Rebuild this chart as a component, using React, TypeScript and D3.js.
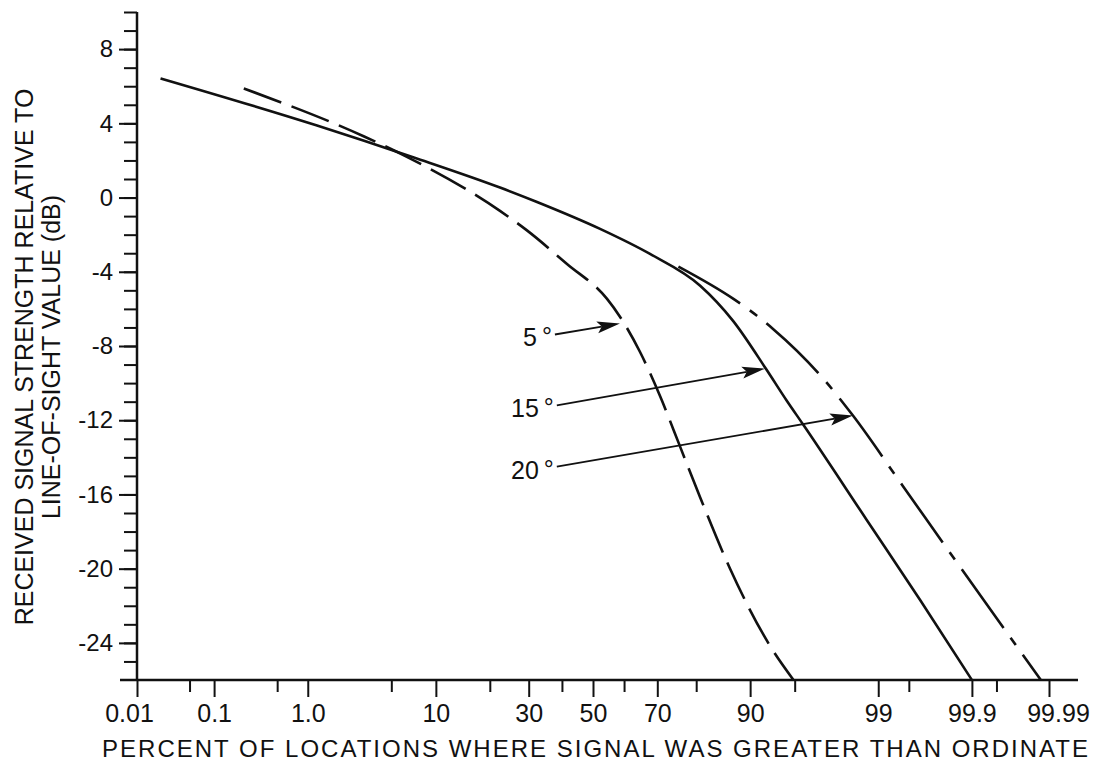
import React, { useEffect, useRef } from 'react';
import * as d3 from 'd3';

// percent of locations (x) vs. received signal relative to line-of-sight, dB (y)
// 5 deg elevation (dashed)
const pct5 = [0.22, 3.1, 6.2, 22.4, 29.5, 41.6, 54.5, 58.7, 64.9, 70.8, 76.1, 80.9, 86.8, 92.6, 94.9];
const db5 = [5.88, 3.29, 2.26, -0.72, -1.77, -3.58, -5.45, -6.42, -8.31, -10.71, -13.41, -16.16, -19.99, -24.19, -26];
// 15 deg elevation (solid)
const pct15 = [0.021, 1.22, 7.2, 22.4, 32.4, 52.3, 67.9, 80.9, 87.3, 92.1, 94.3, 95.66, 98.73, 99.62, 99.9];
const db15 = [6.42, 3.88, 2.16, 0.54, -0.24, -1.69, -3.04, -4.75, -6.63, -9.24, -10.95, -12.22, -17.4, -21.7, -26];
// 20 deg elevation (dash-dot)
const pct20 = [75.7, 87.4, 90.9, 92.9, 96.99, 98.3, 99.427, 99.886, 99.987];
const db20 = [-3.72, -5.46, -6.36, -7.08, -9.77, -11.75, -15.56, -20.44, -26];

const xMajor = [0.01, 0.1, 1, 10, 30, 50, 70, 90, 99, 99.9, 99.99];
const xMajorLabels = ['0.01', '0.1', '1.0', '10', '30', '50', '70', '90', '99', '99.9', '99.99'];
const xMinor = [0.05, 0.5, 5, 20, 40, 60, 80, 95, 99.5, 99.95];
const yMajor = [-24, -20, -16, -12, -8, -4, 0, 4, 8];
const yMinor = d3.range(-25, 11);

// arrow annotations
const arrowLabels = ['5', '15', '20'];
const arrowTailPct = [37.8, 38.4, 38.4];
const arrowTailDb = [-7.38, -11.2, -14.5];
const arrowTipPct = [58.7, 91.96, 98.3];
const arrowTipDb = [-6.79, -9.22, -11.75];

const FONT = '"Liberation Sans", Arial, Helvetica, sans-serif';
const INK = '#111';

// inverse normal cdf (Acklam) for the probability axis
function probit(p: number): number {
  const a = [-39.69683028665376, 220.9460984245205, -275.9285104469687, 138.357751867269, -30.66479806614716, 2.506628277459239];
  const b = [-54.47609879822406, 161.5858368580409, -155.6989798598866, 66.80131188771972, -13.28068155288572];
  const c = [-0.007784894002430293, -0.3223964580411365, -2.400758277161838, -2.549732539343734, 4.374664141464968, 2.938163982698783];
  const d = [0.007784695709041462, 0.3224671290700398, 2.445134137142996, 3.754408661907416];
  const lo = 0.02425;
  if (p < lo || p > 1 - lo) {
    const q = Math.sqrt(-2 * Math.log(p < lo ? p : 1 - p));
    const v = (((((c[0] * q + c[1]) * q + c[2]) * q + c[3]) * q + c[4]) * q + c[5]) /
      ((((d[0] * q + d[1]) * q + d[2]) * q + d[3]) * q + 1);
    return p < lo ? v : -v;
  }
  const q = p - 0.5;
  const r = q * q;
  return ((((((a[0] * r + a[1]) * r + a[2]) * r + a[3]) * r + a[4]) * r + a[5]) * q) /
    (((((b[0] * r + b[1]) * r + b[2]) * r + b[3]) * r + b[4]) * r + 1);
}

const App = () => {
  const ref = useRef<SVGSVGElement>(null);

  useEffect(() => {
    const svg = d3.select(ref.current);
    svg.selectAll('*').remove();

    const zx = d3.scaleLinear().domain([probit(0.0001), probit(0.9999)]).range([137, 1049]);
    const x = (p: number) => zx(probit(p / 100));
    const y = d3.scaleLinear().domain([-26, 10]).range([680, 12]);
    const y0 = y(-26);

    const g = svg.append('g').attr('font-family', FONT);

    // x axis (probability scale)
    const xMinorAxis = d3.axisBottom(zx).tickValues(xMinor.map((p) => probit(p / 100))).tickSize(12).tickFormat(() => '');
    const xMajorAxis = d3.axisBottom(zx)
      .tickValues(xMajor.map((p) => probit(p / 100)))
      .tickSize(17)
      .tickPadding(7)
      .tickFormat((_, i) => xMajorLabels[i]);
    g.append('g').attr('transform', `translate(0,${y0})`).call(xMinorAxis);
    const xg = g.append('g').attr('transform', `translate(0,${y0})`).call(xMajorAxis);
    // end labels sit a little outside their ticks in the original
    xg.selectAll('.tick text').attr('dx', (_, i) => (i === 0 ? -8 : i === xMajor.length - 1 ? 9 : 0));

    // y axis
    const yMinorAxis = d3.axisLeft(y).tickValues(yMinor).tickSize(13).tickFormat(() => '');
    const yMajorAxis = d3.axisLeft(y)
      .tickValues(yMajor)
      .tickSize(18)
      .tickPadding(6)
      .tickFormat((v) => String(v));
    g.append('g').attr('transform', `translate(${zx.range()[0]},0)`).call(yMinorAxis);
    const yg = g.append('g').attr('transform', `translate(${zx.range()[0]},0)`).call(yMajorAxis);

    g.selectAll('.domain').remove();
    g.selectAll('.tick line').attr('stroke', INK).attr('stroke-width', 2);
    xg.selectAll('.tick text').attr('fill', INK).attr('font-size', 25).attr('font-family', FONT);
    yg.selectAll('.tick text').attr('fill', INK).attr('font-size', 24).attr('font-family', FONT);

    // axis lines
    g.append('line')
      .attr('x1', zx.range()[0] - 17).attr('x2', zx.range()[1] + 29)
      .attr('y1', y0).attr('y2', y0)
      .attr('stroke', INK).attr('stroke-width', 2.5);
    g.append('line')
      .attr('x1', zx.range()[0]).attr('x2', zx.range()[0])
      .attr('y1', y(10)).attr('y2', y0)
      .attr('stroke', INK).attr('stroke-width', 2.5);

    // curves
    const line = d3.line<[number, number]>()
      .x((d) => x(d[0]))
      .y((d) => y(d[1]))
      .curve(d3.curveMonotoneX);

    const series = [
      { pct: pct5, db: db5, dash: '40 11' },
      { pct: pct15, db: db15, dash: null },
      { pct: pct20, db: db20, dash: '72 12 9 12' },
    ];
    series.forEach((s) => {
      g.append('path')
        .datum(s.pct.map((p, i) => [p, s.db[i]] as [number, number]))
        .attr('d', line)
        .attr('fill', 'none')
        .attr('stroke', INK)
        .attr('stroke-width', 2.6)
        .attr('stroke-dasharray', s.dash);
    });

    // arrows with labels
    arrowLabels.forEach((lab, i) => {
      const tx = x(arrowTailPct[i]);
      const ty = y(arrowTailDb[i]);
      const hx = x(arrowTipPct[i]);
      const hy = y(arrowTipDb[i]);
      const len = Math.hypot(hx - tx, hy - ty);
      const ux = (hx - tx) / len;
      const uy = (hy - ty) / len;
      const L = 23;
      const W = 6;
      g.append('line')
        .attr('x1', tx).attr('y1', ty)
        .attr('x2', hx - ux * L * 0.8).attr('y2', hy - uy * L * 0.8)
        .attr('stroke', INK).attr('stroke-width', 1.8);
      g.append('path')
        .attr('d', d3.line()([
          [hx, hy],
          [hx - ux * L - uy * W, hy - uy * L + ux * W],
          [hx - ux * L * 0.8, hy - uy * L * 0.8],
          [hx - ux * L + uy * W, hy - uy * L - ux * W],
        ]) + 'Z')
        .attr('fill', INK);
      const t = g.append('text')
        .attr('x', tx - 3)
        .attr('y', ty + 12)
        .attr('text-anchor', 'end')
        .attr('font-size', 25)
        .attr('fill', INK);
      t.append('tspan').text(lab);
      t.append('tspan').attr('dx', 5).attr('dy', -1).text('°');
    });

    // axis titles
    g.append('text')
      .attr('x', 102)
      .attr('y', 757)
      .attr('font-size', 24)
      .attr('textLength', 986)
      .attr('lengthAdjust', 'spacing')
      .attr('fill', INK)
      .text('PERCENT OF LOCATIONS WHERE SIGNAL WAS GREATER THAN ORDINATE');

    const yt = g.append('text')
      .attr('transform', `translate(33,${(y(10) + y0) / 2 + 11}) rotate(-90)`)
      .attr('text-anchor', 'middle')
      .attr('font-size', 25)
      .attr('fill', INK);
    yt.append('tspan').attr('x', 0).attr('y', 0).text('RECEIVED SIGNAL STRENGTH RELATIVE TO');
    yt.append('tspan').attr('x', 0).attr('y', 27).text('LINE-OF-SIGHT VALUE (dB)');
  }, []);

  return (
    <svg
      ref={ref}
      width={1100}
      height={777}
      viewBox="0 0 1100 777"
      style={{ position: 'absolute', left: 0, top: 0, background: '#fff' }}
    />
  );
};

export default App;
